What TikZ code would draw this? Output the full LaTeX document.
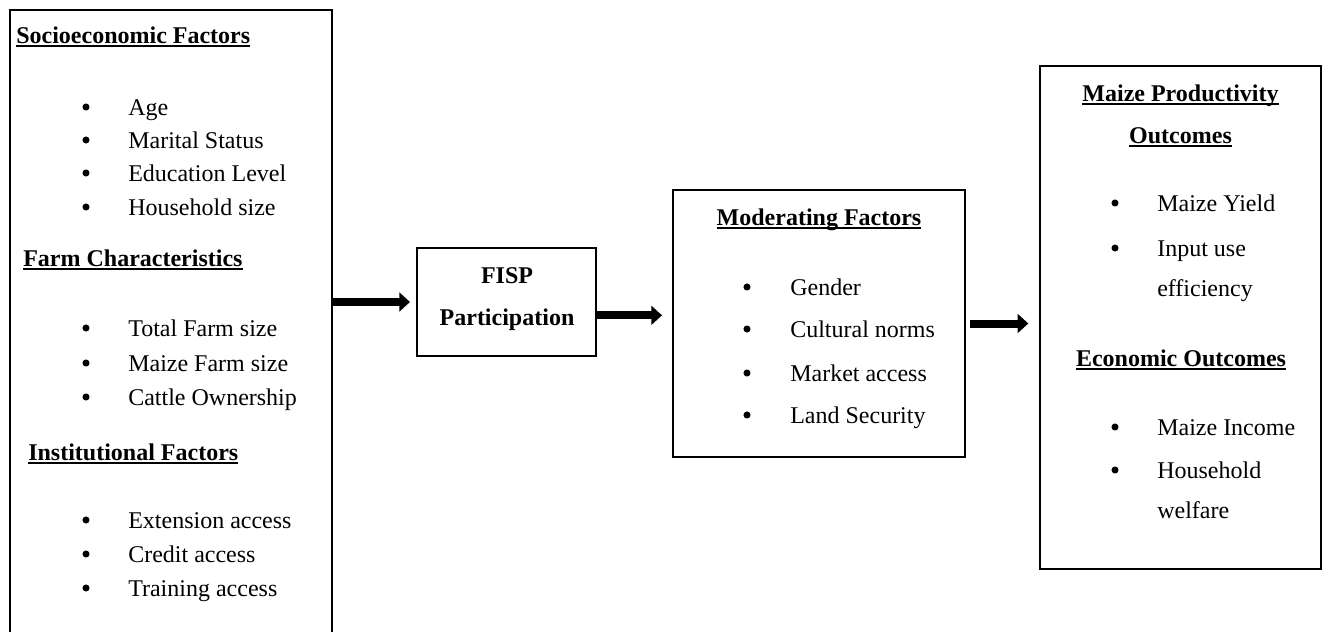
\documentclass[tikz,border=0pt]{standalone}
\usepackage{fontspec}
\setmainfont{Liberation Serif}
\usetikzlibrary{arrows.meta}

% underlined heading text
\newcommand{\ulbox}[1]{\setbox0\hbox{#1}\rlap{\rule[-2.8pt]{\wd0}{1.3pt}}\box0}

\tikzset{
  panel/.style={draw, line width=1.5pt, inner sep=0pt},
  txt/.style={inner sep=0pt, text height=14pt, text depth=1.5pt},
  item/.style={txt, anchor=west},
  dot/.style={circle, fill, inner sep=0pt, minimum size=5.3pt},
  head/.style={txt, font=\fontsize{18pt}{22pt}\selectfont\bfseries},
  flow/.style={-{Triangle[length=8pt,width=14pt]}, line width=6pt},
}

\begin{document}
\begin{tikzpicture}[x=0.75pt, y=-0.75pt, font=\fontsize{18pt}{22pt}\selectfont]
      \useasboundingbox (0,0) rectangle (1325,632);
      % \draw[help lines, gray!50, very thin] (0,0) grid[step=50] (1325,632);

      % boxes
      \node[panel, minimum width=241.5pt, minimum height=495pt] (factors) at (171,340) {};
      \node[panel, minimum width=134.25pt, minimum height=81pt] (fisp) at (506.5,302) {};
      \node[panel, minimum width=219pt, minimum height=200.25pt] (moder) at (819,323.5) {};
      \node[panel, minimum width=210.75pt, minimum height=377.25pt] (outc) at (1180.5,317.5) {};

      % left box
      \node[head, anchor=west] (socio) at (16,35) {\ulbox{Socioeconomic Factors}};
      \node[dot] (sb1) at (86,107) {};  \node[item] (s1) at (128,107) {Age};
      \node[dot] (sb2) at (86,140) {};  \node[item] (s2) at (128,140) {Marital Status};
      \node[dot] (sb3) at (86,173) {};  \node[item] (s3) at (128,173) {Education Level};
      \node[dot] (sb4) at (86,207) {};  \node[item] (s4) at (128,207) {Household size};

      \node[head, anchor=west] (farm) at (23,258) {\ulbox{Farm Characteristics}};
      \node[dot] (fb1) at (86,328) {};  \node[item] (f1) at (128,328) {Total Farm size};
      \node[dot] (fb2) at (86,363) {};  \node[item] (f2) at (128,363) {Maize Farm size};
      \node[dot] (fb3) at (86,397) {};  \node[item] (f3) at (128,397) {Cattle Ownership};

      \node[head, anchor=west] (inst) at (28,452) {\ulbox{Institutional Factors}};
      \node[dot] (ib1) at (86,520) {};  \node[item] (i1) at (128,520) {Extension access};
      \node[dot] (ib2) at (86,554) {};  \node[item] (i2) at (128,554) {Credit access};
      \node[dot] (ib3) at (86,588) {};  \node[item] (i3) at (128,588) {Training access};

      % FISP box
      \node[head] (fisp1) at (507,275) {FISP};
      \node[head] (fisp2) at (507,317) {Participation};

      % moderating box
      \node[head] (modtitle) at (819,217) {\ulbox{Moderating Factors}};
      \node[dot] (mb1) at (747,287) {};  \node[item] (m1) at (790,287) {Gender};
      \node[dot] (mb2) at (747,329) {};  \node[item] (m2) at (790,329) {Cultural norms};
      \node[dot] (mb3) at (747,373) {};  \node[item] (m3) at (790,373) {Market access};
      \node[dot] (mb4) at (747,415) {};  \node[item] (m4) at (790,415) {Land Security};

      % outcomes box
      \node[head] (prodtitle) at (1180.5,93) {\ulbox{Maize Productivity}};
      \node[head] (prodtitle2) at (1180.5,135) {\ulbox{Outcomes}};
      \node[dot] (pb1) at (1115,203) {};  \node[item] (p1) at (1157,203) {Maize Yield};
      \node[dot] (pb2) at (1115,248) {};  \node[item] (p2) at (1157,248) {Input use};
      \node[item] (p3) at (1157,288) {efficiency};
      \node[head] (ecotitle) at (1181,358) {\ulbox{Economic Outcomes}};
      \node[dot] (eb1) at (1115,427) {};  \node[item] (e1) at (1157,427) {Maize Income};
      \node[dot] (eb2) at (1115,470) {};  \node[item] (e2) at (1157,470) {Household};
      \node[item] (e3) at (1157,510) {welfare};

      % arrows
      \draw[flow, shorten >=4.5pt] (factors.east |- fisp.west) -- (fisp.west);
      \draw[flow, shorten >=7.5pt] ([yshift=-10pt]fisp.east) -- ([yshift=-10pt]fisp.east -| moder.west);
      \draw[flow, shorten <=3pt, shorten >=8pt] (moder.east) -- (moder.east -| outc.west);
    \end{tikzpicture}
\end{document}
